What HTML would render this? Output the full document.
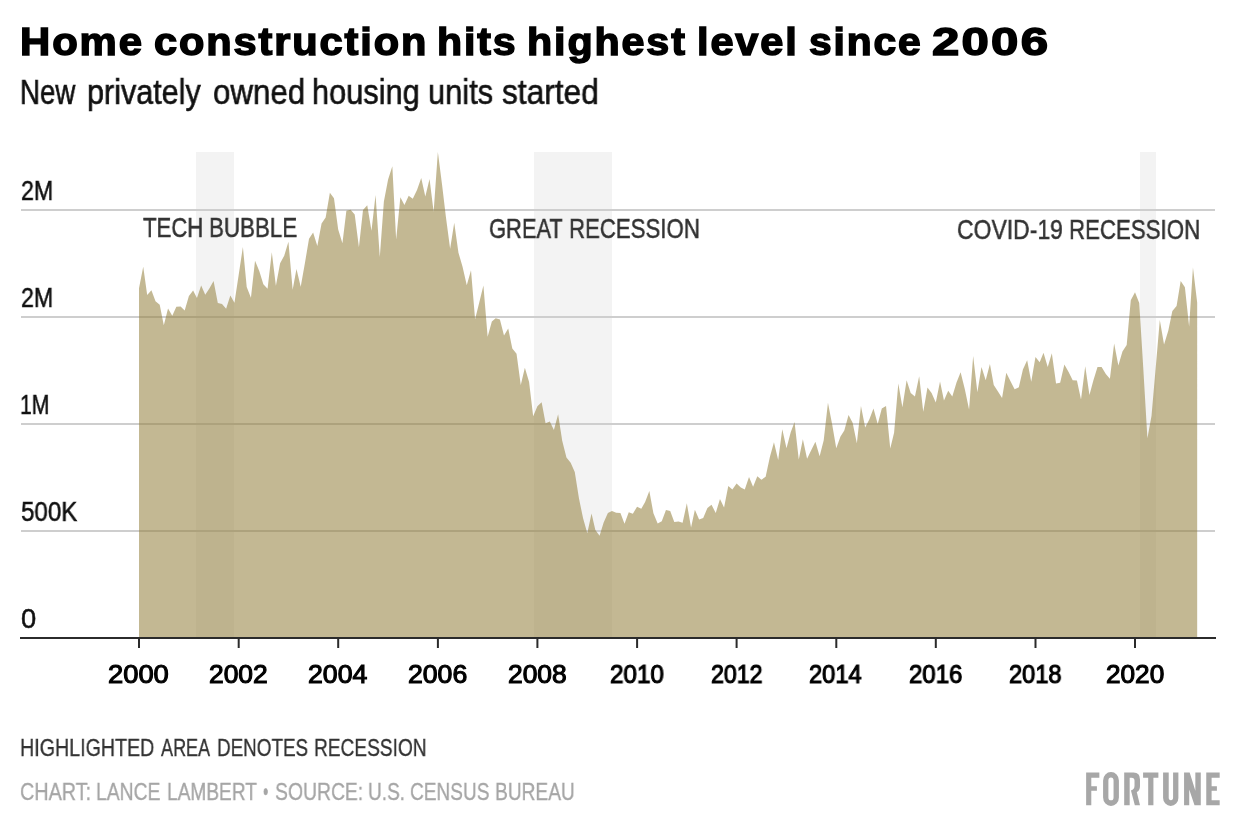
<!DOCTYPE html>
<html><head><meta charset="utf-8"><title>Home construction</title>
<style>
html,body{margin:0;padding:0;background:#fff;}
body{width:1240px;height:840px;position:relative;overflow:hidden;font-family:"Liberation Sans",sans-serif;}
.t{position:absolute;white-space:nowrap;transform-origin:0 0;line-height:1;will-change:transform;}
svg{position:absolute;left:0;top:0;}
</style></head><body>
<svg width="1240" height="840" viewBox="0 0 1240 840">
<rect x="196" y="152" width="38" height="486" fill="#f3f3f3"/>
<rect x="534" y="152" width="78" height="486" fill="#f3f3f3"/>
<rect x="1140" y="152" width="16" height="486" fill="#f3f3f3"/>
<g fill="#cecece">
<rect x="21" y="209" width="1194" height="2"/>
<rect x="21" y="316" width="1194" height="2"/>
<rect x="21" y="423" width="1194" height="2"/>
<rect x="21" y="530" width="1194" height="2"/>
</g>
<path d="M139.00,638.00 L139.00,288.22 L143.23,266.63 L147.18,295.06 L151.41,290.36 L155.50,301.27 L159.72,304.69 L163.81,325.21 L168.04,308.53 L172.27,315.80 L176.36,306.82 L180.59,306.40 L184.68,310.46 L188.90,295.92 L193.13,290.57 L196.95,298.06 L201.17,285.44 L205.26,294.85 L209.49,288.22 L213.58,280.95 L217.81,302.98 L222.03,304.04 L226.12,308.75 L230.35,295.49 L234.44,302.76 L238.67,274.97 L242.89,246.96 L246.71,286.94 L250.94,297.63 L255.03,260.86 L259.26,270.91 L263.35,284.16 L267.57,288.86 L271.80,252.30 L275.89,285.66 L280.12,263.21 L284.21,255.73 L288.43,241.83 L292.66,289.72 L296.48,268.98 L300.71,286.73 L304.80,263.64 L309.02,238.84 L313.11,232.42 L317.34,246.10 L321.57,223.44 L325.66,217.46 L329.88,192.65 L333.97,198.21 L338.20,229.43 L342.43,243.33 L346.38,210.83 L350.61,209.76 L354.70,214.46 L358.92,247.17 L363.01,209.97 L367.24,205.27 L371.47,230.71 L375.56,195.01 L379.79,257.01 L383.88,201.42 L388.10,179.61 L392.33,166.14 L396.15,239.48 L400.37,197.36 L404.46,205.06 L408.69,195.86 L412.78,198.85 L417.01,190.09 L421.23,178.12 L425.32,196.50 L429.55,178.97 L433.64,211.68 L437.87,152.03 L442.09,184.96 L445.91,217.03 L450.14,248.67 L454.23,222.80 L458.46,252.73 L462.55,266.63 L466.77,285.23 L471.00,270.26 L475.09,319.22 L479.32,302.33 L483.41,285.44 L487.63,336.76 L491.86,321.58 L495.68,318.37 L499.91,319.44 L504.00,335.47 L508.22,328.42 L512.31,348.51 L516.54,353.65 L520.77,385.07 L524.86,367.76 L529.08,382.08 L533.17,416.29 L537.40,406.24 L541.63,402.18 L545.58,423.13 L549.81,421.42 L553.90,429.97 L558.12,414.37 L562.21,440.66 L566.44,457.55 L570.67,462.68 L574.76,471.88 L578.99,498.60 L583.08,518.27 L587.30,533.24 L591.53,513.57 L595.35,530.03 L599.57,535.80 L603.66,522.55 L607.89,512.93 L611.98,511.00 L616.21,512.71 L620.43,512.93 L624.52,523.83 L628.75,512.29 L632.84,513.78 L637.07,506.73 L641.29,508.86 L645.11,502.02 L649.34,491.12 L653.43,513.35 L657.66,523.40 L661.75,521.27 L665.97,509.93 L670.20,511.00 L674.29,521.91 L678.52,521.48 L682.61,522.76 L686.83,503.31 L691.06,527.47 L694.88,509.72 L699.11,519.55 L703.20,518.06 L707.42,508.01 L711.51,504.80 L715.74,512.93 L719.97,499.03 L724.06,507.58 L728.28,485.99 L732.37,489.62 L736.60,483.42 L740.83,487.48 L744.78,489.41 L749.01,477.01 L753.10,486.63 L757.32,476.15 L761.41,479.79 L765.64,476.79 L769.87,456.91 L773.96,442.37 L778.19,459.90 L782.28,429.33 L786.50,448.15 L790.73,432.32 L794.55,422.06 L798.77,459.48 L802.86,439.17 L807.09,458.84 L811.18,450.28 L815.41,441.73 L819.63,456.27 L823.72,440.24 L827.95,402.82 L832.04,423.77 L836.27,448.15 L840.49,436.60 L844.31,430.61 L848.54,415.01 L852.63,422.70 L856.86,443.23 L860.95,406.03 L865.17,427.62 L869.40,419.28 L873.49,408.38 L877.72,423.99 L881.81,408.59 L886.03,406.03 L890.26,448.57 L894.08,432.75 L898.31,383.58 L902.40,407.31 L906.62,380.37 L910.71,392.99 L914.94,396.41 L919.17,376.31 L923.26,411.80 L927.48,387.43 L931.57,392.99 L935.80,402.61 L940.03,381.44 L943.98,400.47 L948.21,390.63 L952.30,396.62 L956.52,382.51 L960.61,372.25 L964.84,389.14 L969.07,409.45 L973.16,356.00 L977.39,392.34 L981.48,366.90 L985.70,380.37 L989.93,364.12 L993.75,385.07 L997.97,391.49 L1002.06,398.12 L1006.29,372.67 L1010.38,381.01 L1014.61,389.35 L1018.83,387.21 L1022.92,369.47 L1027.15,360.27 L1031.24,381.65 L1035.47,357.07 L1039.69,362.20 L1043.51,352.79 L1047.74,367.12 L1051.83,353.22 L1056.06,383.58 L1060.15,382.72 L1064.37,364.55 L1068.60,372.03 L1072.69,380.16 L1076.92,380.58 L1081.01,399.61 L1085.23,366.26 L1089.46,394.91 L1093.28,380.80 L1097.51,367.12 L1101.60,366.90 L1105.82,373.96 L1109.91,378.87 L1114.14,343.60 L1118.37,365.62 L1122.46,351.51 L1126.68,344.88 L1130.77,300.20 L1135.00,292.29 L1139.23,302.98 L1143.18,366.69 L1147.41,438.31 L1151.50,416.08 L1155.72,367.54 L1159.81,320.08 L1164.04,344.45 L1168.27,330.77 L1172.36,310.89 L1176.59,305.97 L1180.68,280.95 L1184.90,287.37 L1189.13,326.49 L1192.95,267.48 L1197.17,302.55 L1197.17,638.00 Z" fill="rgb(146,126,59)" fill-opacity="0.55"/>
<rect x="20" y="637" width="1196" height="2" fill="#2b2b2b"/>
<rect x="138.0" y="637" width="2" height="11" fill="#2b2b2b"/><rect x="237.7" y="637" width="2" height="11" fill="#2b2b2b"/><rect x="337.2" y="637" width="2" height="11" fill="#2b2b2b"/><rect x="436.9" y="637" width="2" height="11" fill="#2b2b2b"/><rect x="536.4" y="637" width="2" height="11" fill="#2b2b2b"/><rect x="636.1" y="637" width="2" height="11" fill="#2b2b2b"/><rect x="735.6" y="637" width="2" height="11" fill="#2b2b2b"/><rect x="835.3" y="637" width="2" height="11" fill="#2b2b2b"/><rect x="934.8" y="637" width="2" height="11" fill="#2b2b2b"/><rect x="1034.5" y="637" width="2" height="11" fill="#2b2b2b"/><rect x="1134.0" y="637" width="2" height="11" fill="#2b2b2b"/>
<g id="logo" fill="#a7a7a7" fill-rule="evenodd">
<g transform="translate(1080,765) scale(0.064516)">
<path d="M95,118 H300 V197 H175 V328 H262 V400 H175 V625 H95 Z"/>
<path d="M358,240 A122.5,132 0 0 1 603,240 V503 A122.5,132 0 0 1 358,503 Z M440,240 V503 A40,45 0 0 0 520,503 V240 A40,45 0 0 0 440,240 Z"/>
<path d="M685,118 H830 Q930,118 930,225 V325 Q930,395 880,420 L930,625 H850 L790,395 Q845,375 845,320 V245 Q845,197 800,197 H770 V625 H685 Z"/>
<path d="M978,118 H1215 V197 H1138 V625 H1057 V197 H978 Z"/>
</g>
<g transform="translate(1150,765) scale(0.064516)">
<path d="M203,118 H290 V505 A34,43 0 0 0 358,505 V118 H440 V510 A118.5,125 0 0 1 203,510 Z"/>
<path d="M528,118 H615 L703,400 V118 H787 V625 H690 L608,380 V625 H528 Z"/>
<path d="M872,118 H1080 V197 H955 V328 H1037 V400 H955 V548 H1080 V625 H872 Z"/>
</g>
</g>
</svg>
<div class="t" style="left:20.49px;top:21.85px;font-size:39.61px;font-weight:bold;color:#000;-webkit-text-stroke:1.50px #000;letter-spacing:1.80px;transform:scaleX(1.0566)">Home</div>
<div class="t" style="left:153.64px;top:21.85px;font-size:39.61px;font-weight:bold;color:#000;-webkit-text-stroke:1.50px #000;letter-spacing:1.80px;transform:scaleX(1.0491)">construction</div>
<div class="t" style="left:437.23px;top:21.85px;font-size:39.61px;font-weight:bold;color:#000;-webkit-text-stroke:1.50px #000;letter-spacing:1.80px;transform:scaleX(1.0370)">hits</div>
<div class="t" style="left:526.72px;top:21.85px;font-size:39.61px;font-weight:bold;color:#000;-webkit-text-stroke:1.50px #000;letter-spacing:1.80px;transform:scaleX(1.0413)">highest</div>
<div class="t" style="left:697.41px;top:21.85px;font-size:39.61px;font-weight:bold;color:#000;-webkit-text-stroke:1.50px #000;letter-spacing:1.80px;transform:scaleX(1.0471)">level</div>
<div class="t" style="left:808.87px;top:21.85px;font-size:39.61px;font-weight:bold;color:#000;-webkit-text-stroke:1.50px #000;letter-spacing:1.80px;transform:scaleX(1.0290)">since</div>
<div class="t" style="left:931.52px;top:21.85px;font-size:39.61px;font-weight:bold;color:#000;-webkit-text-stroke:1.50px #000;letter-spacing:1.80px;transform:scaleX(1.2406)">2006</div>
<div class="t" style="left:20.30px;top:74.65px;font-size:34.59px;font-weight:normal;color:#111;-webkit-text-stroke:0.60px #111;transform:scaleX(0.8000)">New</div>
<div class="t" style="left:87.07px;top:74.65px;font-size:34.59px;font-weight:normal;color:#111;-webkit-text-stroke:0.60px #111;transform:scaleX(0.8831)">privately</div>
<div class="t" style="left:212.90px;top:74.65px;font-size:34.59px;font-weight:normal;color:#111;-webkit-text-stroke:0.60px #111;transform:scaleX(0.9039)">owned</div>
<div class="t" style="left:312.02px;top:74.65px;font-size:34.59px;font-weight:normal;color:#111;-webkit-text-stroke:0.60px #111;transform:scaleX(0.8886)">housing</div>
<div class="t" style="left:428.26px;top:74.65px;font-size:34.59px;font-weight:normal;color:#111;-webkit-text-stroke:0.60px #111;transform:scaleX(0.8916)">units</div>
<div class="t" style="left:502.34px;top:74.65px;font-size:34.59px;font-weight:normal;color:#111;-webkit-text-stroke:0.60px #111;transform:scaleX(0.9150)">started</div>
<div class="t" style="left:20.73px;top:177.75px;font-size:26.74px;font-weight:normal;color:#111;-webkit-text-stroke:0.50px #111;transform:scaleX(0.8715)">2M</div>
<div class="t" style="left:20.73px;top:284.85px;font-size:26.74px;font-weight:normal;color:#111;-webkit-text-stroke:0.50px #111;transform:scaleX(0.8715)">2M</div>
<div class="t" style="left:19.69px;top:391.65px;font-size:26.74px;font-weight:normal;color:#111;-webkit-text-stroke:0.50px #111;transform:scaleX(0.7928)">1M</div>
<div class="t" style="left:20.97px;top:498.65px;font-size:26.74px;font-weight:normal;color:#111;-webkit-text-stroke:0.50px #111;transform:scaleX(0.9037)">500K</div>
<div class="t" style="left:21.06px;top:605.75px;font-size:26.74px;font-weight:normal;color:#111;-webkit-text-stroke:0.50px #111;transform:scaleX(1.0215)">0</div>
<div class="t" style="left:143.00px;top:214.45px;font-size:27.76px;font-weight:normal;color:#333;-webkit-text-stroke:0.50px #333;transform:scaleX(0.7973)">TECH</div>
<div class="t" style="left:209.19px;top:214.45px;font-size:27.76px;font-weight:normal;color:#333;-webkit-text-stroke:0.50px #333;transform:scaleX(0.8056)">BUBBLE</div>
<div class="t" style="left:488.91px;top:214.55px;font-size:27.76px;font-weight:normal;color:#333;-webkit-text-stroke:0.50px #333;transform:scaleX(0.7886)">GREAT</div>
<div class="t" style="left:569.00px;top:214.55px;font-size:27.76px;font-weight:normal;color:#333;-webkit-text-stroke:0.50px #333;transform:scaleX(0.8006)">RECESSION</div>
<div class="t" style="left:956.87px;top:216.45px;font-size:27.76px;font-weight:normal;color:#333;-webkit-text-stroke:0.50px #333;transform:scaleX(0.8270)">COVID-19</div>
<div class="t" style="left:1068.60px;top:216.45px;font-size:27.76px;font-weight:normal;color:#333;-webkit-text-stroke:0.50px #333;transform:scaleX(0.8025)">RECESSION</div>
<div class="t" style="left:19.84px;top:735.55px;font-size:24.20px;font-weight:normal;color:#333;-webkit-text-stroke:0.35px #333;transform:scaleX(0.8127)">HIGHLIGHTED</div>
<div class="t" style="left:160.83px;top:735.55px;font-size:24.20px;font-weight:normal;color:#333;-webkit-text-stroke:0.35px #333;transform:scaleX(0.7450)">AREA</div>
<div class="t" style="left:216.60px;top:735.55px;font-size:24.20px;font-weight:normal;color:#333;-webkit-text-stroke:0.35px #333;transform:scaleX(0.7793)">DENOTES</div>
<div class="t" style="left:313.58px;top:735.55px;font-size:24.20px;font-weight:normal;color:#333;-webkit-text-stroke:0.35px #333;transform:scaleX(0.7902)">RECESSION</div>
<div class="t" style="left:20.48px;top:779.75px;font-size:24.20px;font-weight:normal;color:#a6a6a6;-webkit-text-stroke:0.35px #a6a6a6;transform:scaleX(0.8179)">CHART:</div>
<div class="t" style="left:96.06px;top:779.75px;font-size:24.20px;font-weight:normal;color:#a6a6a6;-webkit-text-stroke:0.35px #a6a6a6;transform:scaleX(0.7992)">LANCE</div>
<div class="t" style="left:166.58px;top:779.75px;font-size:24.20px;font-weight:normal;color:#a6a6a6;-webkit-text-stroke:0.35px #a6a6a6;transform:scaleX(0.7905)">LAMBERT</div>
<div class="t" style="left:263.28px;top:779.75px;font-size:24.20px;font-weight:normal;color:#a6a6a6;-webkit-text-stroke:0.35px #a6a6a6;transform:scaleX(0.6274)">•</div>
<div class="t" style="left:274.70px;top:779.75px;font-size:24.20px;font-weight:normal;color:#a6a6a6;-webkit-text-stroke:0.35px #a6a6a6;transform:scaleX(0.8003)">SOURCE:</div>
<div class="t" style="left:367.55px;top:779.75px;font-size:24.20px;font-weight:normal;color:#a6a6a6;-webkit-text-stroke:0.35px #a6a6a6;transform:scaleX(0.7879)">U.S.</div>
<div class="t" style="left:410.01px;top:779.75px;font-size:24.20px;font-weight:normal;color:#a6a6a6;-webkit-text-stroke:0.35px #a6a6a6;transform:scaleX(0.7879)">CENSUS</div>
<div class="t" style="left:494.88px;top:779.75px;font-size:24.20px;font-weight:normal;color:#a6a6a6;-webkit-text-stroke:0.35px #a6a6a6;transform:scaleX(0.7920)">BUREAU</div>
<div class="t" style="left:108.01px;top:662.21px;font-size:25.39px;font-weight:normal;color:#000;-webkit-text-stroke:1.10px #000;transform:scaleX(1.0767)">2000</div>
<div class="t" style="left:208.73px;top:662.21px;font-size:25.39px;font-weight:normal;color:#000;-webkit-text-stroke:1.10px #000;transform:scaleX(1.0405)">2002</div>
<div class="t" style="left:308.03px;top:662.21px;font-size:25.39px;font-weight:normal;color:#000;-webkit-text-stroke:1.10px #000;transform:scaleX(1.0499)">2004</div>
<div class="t" style="left:408.03px;top:662.21px;font-size:25.39px;font-weight:normal;color:#000;-webkit-text-stroke:1.10px #000;transform:scaleX(1.0495)">2006</div>
<div class="t" style="left:507.53px;top:662.21px;font-size:25.39px;font-weight:normal;color:#000;-webkit-text-stroke:1.10px #000;transform:scaleX(1.0405)">2008</div>
<div class="t" style="left:609.80px;top:662.21px;font-size:25.39px;font-weight:normal;color:#000;-webkit-text-stroke:1.10px #000;transform:scaleX(0.9554)">2010</div>
<div class="t" style="left:710.63px;top:662.21px;font-size:25.39px;font-weight:normal;color:#000;-webkit-text-stroke:1.10px #000;transform:scaleX(0.9138)">2012</div>
<div class="t" style="left:809.31px;top:662.21px;font-size:25.39px;font-weight:normal;color:#000;-webkit-text-stroke:1.10px #000;transform:scaleX(0.9344)">2014</div>
<div class="t" style="left:908.80px;top:662.21px;font-size:25.39px;font-weight:normal;color:#000;-webkit-text-stroke:1.10px #000;transform:scaleX(0.9464)">2016</div>
<div class="t" style="left:1008.61px;top:662.21px;font-size:25.39px;font-weight:normal;color:#000;-webkit-text-stroke:1.10px #000;transform:scaleX(0.9319)">2018</div>
<div class="t" style="left:1105.54px;top:662.21px;font-size:25.39px;font-weight:normal;color:#000;-webkit-text-stroke:1.10px #000;transform:scaleX(1.0314)">2020</div>
</body></html>
